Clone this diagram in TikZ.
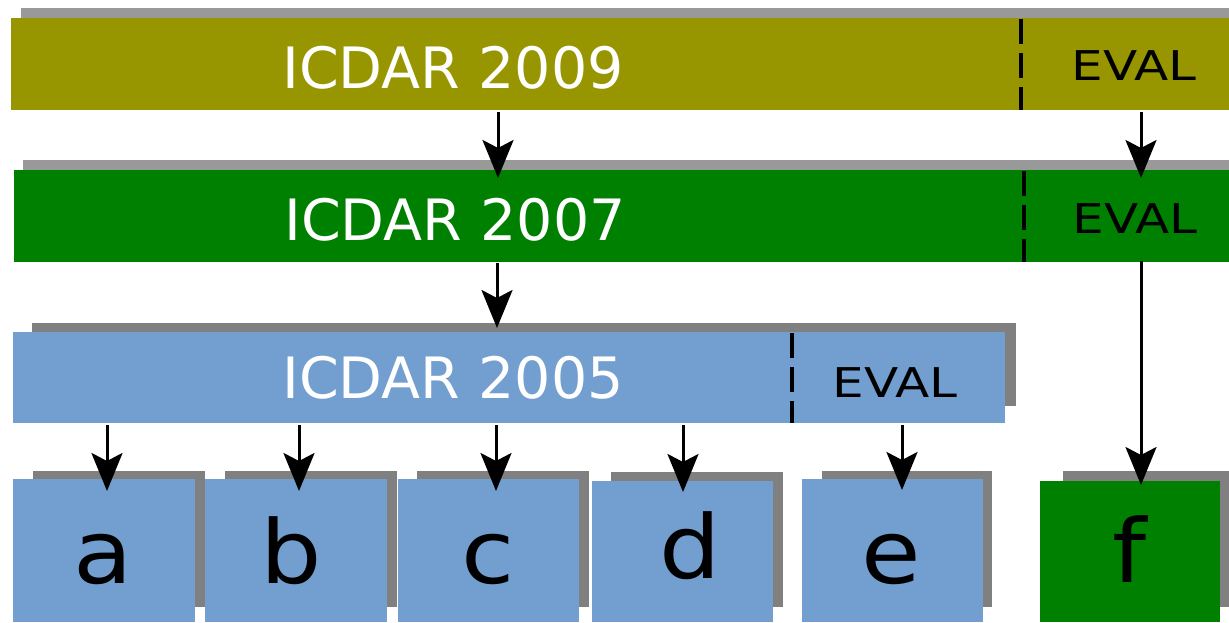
\documentclass[tikz,border=0pt]{standalone}
\usepackage{fontspec}
\setmainfont{DejaVu Sans}
\usetikzlibrary{arrows.meta}
\definecolor{olive9}{RGB}{152,150,0}
\definecolor{green7}{RGB}{0,128,0}
\definecolor{blue5}{RGB}{114,159,207}
\definecolor{shadeA}{RGB}{153,153,153}
\definecolor{shadeB}{RGB}{128,128,128}
\tikzset{
  box/.style={inner sep=0pt, outer sep=0pt, anchor=north west},
  bigtxt/.style={text=white, font=\fontsize{57}{60}\selectfont, anchor=base, inner sep=0pt},
  evaltxt/.style={text=black, font=\fontsize{41}{44}\selectfont, anchor=base, inner sep=0pt, xscale=1.22},
  lettxt/.style={text=black, font=\fontsize{88}{92}\selectfont, anchor=base, inner sep=0pt, xscale=1.1},
  sep/.style={line width=3.5pt, dash pattern=on 25pt off 9pt},
  arr/.style={line width=3pt, -{Stealth[length=38pt, width=31pt, inset=8pt]}}
}
\begin{document}
\begin{tikzpicture}[x=1pt, y=-1pt]
\useasboundingbox (0,0) rectangle (1229,622);
% ICDAR 2009
\fill[shadeA] (21,8) rectangle (1229,30);
\node[box, fill=olive9, minimum width=1218pt, minimum height=92pt] (b09) at (11,18) {};
\draw[sep] (1021,19) -- (1021,110);
\node[bigtxt] (t09) at (453,88) {ICDAR 2009};
\node[evaltxt] (e09) at (1134,80) {EVAL};
% ICDAR 2007
\fill[shadeA] (23,160) rectangle (1229,180);
\node[box, fill=green7, minimum width=1215pt, minimum height=92pt] (b07) at (14,170) {};
\draw[sep] (1024,171) -- (1024,262);
\node[bigtxt] (t07) at (455,240) {ICDAR 2007};
\node[evaltxt] (e07) at (1135,233) {EVAL};
% ICDAR 2005
\fill[shadeB] (32,323) rectangle (1016,406);
\node[box, fill=blue5, minimum width=992pt, minimum height=91pt] (b05) at (13,332) {};
\draw[sep] (792,333) -- (792,423);
\node[bigtxt] (t05) at (453,398) {ICDAR 2005};
\node[evaltxt] (e05) at (895,397) {EVAL};
% small boxes
\fill[shadeB] (33,471) rectangle (205,607);
\node[box, fill=blue5, minimum width=182pt, minimum height=143pt] (ba) at (13,479) {};
\fill[shadeB] (225,471) rectangle (397,607);
\node[box, fill=blue5, minimum width=182pt, minimum height=143pt] (bb) at (205,479) {};
\fill[shadeB] (417,471) rectangle (589,607);
\node[box, fill=blue5, minimum width=181pt, minimum height=143pt] (bc) at (398,479) {};
\fill[shadeB] (611,472) rectangle (783,607);
\node[box, fill=blue5, minimum width=181pt, minimum height=141pt] (bd) at (592,481) {};
\fill[shadeB] (822,471) rectangle (992,607);
\node[box, fill=blue5, minimum width=181pt, minimum height=143pt] (be) at (802,479) {};
\fill[shadeB] (1063,471) rectangle (1229,607);
\node[box, fill=green7, minimum width=180pt, minimum height=141pt] (bf) at (1040,481) {};
\node[lettxt] (la) at (103,583) {a};
\node[lettxt] (lb) at (291,583) {b};
\node[lettxt] (lc) at (488,583) {c};
\node[lettxt] (ld) at (690,578) {d};
\node[lettxt] (le) at (891,583) {e};
\node[lettxt] (lf) at (1130,582) {f};
% arrow tips
\coordinate (p1) at (498,178);
\coordinate (p2) at (1141,178);
\coordinate (p3) at (497,328);
\coordinate (p4) at (1141,485);
\coordinate (pa) at (107,491);
\coordinate (pb) at (299,491);
\coordinate (pc) at (496,491);
\coordinate (pd) at (683,492);
\coordinate (pe) at (902,490);
\draw[arr] (b09.south -| p1) ++(0,2) -- (p1);
\draw[arr] (b09.south -| p2) ++(0,2) -- (p2);
\draw[arr] (b07.south -| p3) ++(0,1) -- (p3);
\draw[arr] (b07.south -| p4) ++(0,-1) -- (p4);
\draw[arr] (b05.south -| pa) ++(0,2) -- (pa);
\draw[arr] (b05.south -| pb) ++(0,2) -- (pb);
\draw[arr] (b05.south -| pc) ++(0,2) -- (pc);
\draw[arr] (b05.south -| pd) ++(0,2) -- (pd);
\draw[arr] (b05.south -| pe) ++(0,2) -- (pe);
\end{tikzpicture}
\end{document}
